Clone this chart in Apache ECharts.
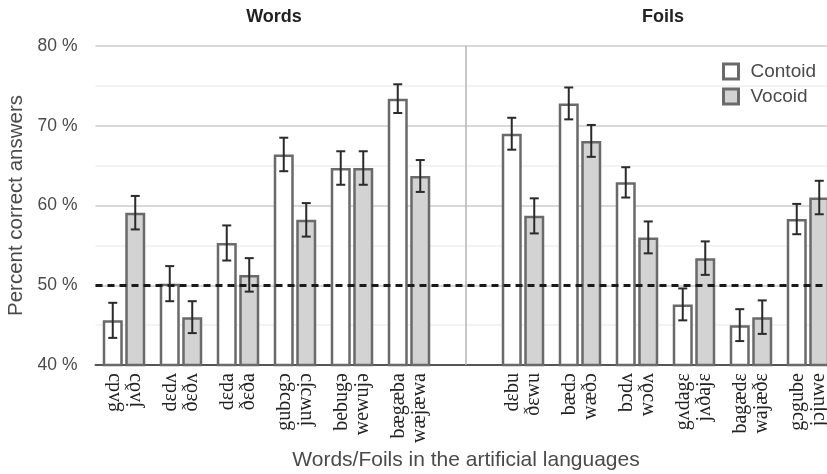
<!DOCTYPE html>
<html>
<head>
<meta charset="utf-8">
<script src="https://cdn.jsdelivr.net/npm/echarts@6/dist/echarts.min.js"></script>
<style>
  html, body { margin: 0; padding: 0; background: #fff; }
  #chart { width: 827px; height: 474px; }
</style>
</head>
<body>
<div id="chart"></div>
<script>
// Item labels (contoid form / vocoid form)
const wordContoid = ['gʌdɔ', 'dɛdʌ', 'dɛda', 'gubɔgɔ', 'bebugə', 'bægæba'];
const wordVocoid  = ['jʌðɔ', 'ðɛðʌ', 'ðɛða', 'juwɔjɔ', 'wewujə', 'wæjæwa'];
const foilContoid = ['dɛbu', 'bædɔ', 'bɔdʌ', 'gʌdagɛ', 'bagædɛ', 'gɔgube'];
const foilVocoid  = ['ðɛwu', 'wæðɔ', 'wɔðʌ', 'jʌðajɛ', 'wajæðɛ', 'jɔjuwe'];

// Percent correct answers
const wordContoidPct = [45.6, 50.2, 55.3, 66.4, 64.7, 73.4];
const wordVocoidPct  = [59.1, 46.0, 51.3, 58.2, 64.7, 63.7];
const foilContoidPct = [69.0, 72.8, 62.9, 47.6, 45.0, 58.3];
const foilVocoidPct  = [58.7, 68.1, 56.0, 53.4, 46.0, 61.0];

// Error bar half-lengths (percentage points)
const wordContoidErr = [2.2, 2.2, 2.2, 2.1, 2.1, 1.8];
const wordVocoidErr  = [2.1, 2.0, 2.1, 2.1, 2.1, 2.0];
const foilContoidErr = [2.0, 2.0, 1.9, 2.0, 2.0, 1.9];
const foilVocoidErr  = [2.2, 2.0, 2.0, 2.1, 2.1, 2.1];

const yTicks = [40, 50, 60, 70, 80];
const chance = 50;

// 13 slots: six word pairs, an empty separator slot, six foil pairs
const categories = [];
wordContoid.forEach((c, i) => categories.push(c + '\n' + wordVocoid[i]));
categories.push('');
foilContoid.forEach((c, i) => categories.push(c + '\n' + foilVocoid[i]));
const gapIndex = wordContoid.length;

const contoidVals = [...wordContoidPct, null, ...foilContoidPct];
const vocoidVals  = [...wordVocoidPct, null, ...foilVocoidPct];
const contoidErrs = [...wordContoidErr, null, ...foilContoidErr];
const vocoidErrs  = [...wordVocoidErr, null, ...foilVocoidErr];

const BAR_W = 20;
const BAR_GAP = 2.5;
const HALF_STEP = (BAR_W + BAR_GAP) / 2;

function errData(vals, errs, side) {
  const out = [];
  vals.forEach((v, i) => { if (v != null) out.push([i, v, errs[i], side]); });
  return out;
}

function renderErr(params, api) {
  const i = api.value(0), v = api.value(1), e = api.value(2), side = api.value(3);
  const hi = api.coord([i, v + e]);
  const lo = api.coord([i, v - e]);
  const x = hi[0] + side * HALF_STEP;
  const cap = 4.5;
  const style = { stroke: '#2a2a2a', lineWidth: 2 };
  return {
    type: 'group',
    children: [
      { type: 'line', shape: { x1: x, y1: hi[1], x2: x, y2: lo[1] }, style },
      { type: 'line', shape: { x1: x - cap, y1: hi[1], x2: x + cap, y2: hi[1] }, style },
      { type: 'line', shape: { x1: x - cap, y1: lo[1], x2: x + cap, y2: lo[1] }, style }
    ]
  };
}

const sans = "'Liberation Sans', Arial, sans-serif";
const serif = "'Liberation Serif', 'DejaVu Serif', serif";

const chart = echarts.init(document.getElementById('chart'), null, { renderer: 'canvas' });
chart.setOption({
  animation: false,
  title: [
    { text: 'Words', left: 274, top: 8, padding: 0, textAlign: 'center',
      textStyle: { fontFamily: sans, fontSize: 18, fontWeight: 'bold', color: '#222' } },
    { text: 'Foils', left: 663, top: 8, padding: 0, textAlign: 'center',
      textStyle: { fontFamily: sans, fontSize: 18, fontWeight: 'bold', color: '#222' } }
  ],
  legend: {
    data: ['Contoid', 'Vocoid'],
    orient: 'vertical',
    left: 722,
    top: 62,
    padding: 0,
    itemWidth: 15,
    itemHeight: 15,
    itemGap: 6,
    icon: 'rect',
    itemStyle: { borderWidth: 3, borderColor: '#6a6a6a' },
    textStyle: { fontFamily: sans, fontSize: 19, lineHeight: 15, color: '#4a4a4a', padding: [0, 0, 0, 7] }
  },
  grid: { left: 95.5, right: -9.5, top: 46, bottom: 109, outerBoundsMode: 'none', containLabel: false },
  xAxis: {
    type: 'category',
    data: categories,
    name: 'Words/Foils in the artificial languages',
    nameLocation: 'middle',
    nameGap: 85,
    nameMoveOverlap: false,
    nameTextStyle: { fontFamily: sans, fontSize: 21, color: '#4a4a4a' },
    axisLine: { lineStyle: { color: '#555', width: 2 } },
    axisTick: { show: false },
    axisLabel: {
      interval: 0,
      rotate: 90,
      margin: 8,
      fontFamily: serif,
      fontSize: 20,
      lineHeight: 21,
      color: '#222'
    }
  },
  yAxis: {
    type: 'value',
    min: yTicks[0],
    max: yTicks[yTicks.length - 1],
    interval: 10,
    name: 'Percent correct answers',
    nameLocation: 'middle',
    nameGap: 69,
    nameMoveOverlap: false,
    nameTextStyle: { fontFamily: sans, fontSize: 20.5, color: '#4a4a4a' },
    axisLine: { show: false },
    axisTick: { show: false },
    axisLabel: { formatter: '{value} %', margin: 18, fontFamily: sans, fontSize: 17.5, color: '#4a4a4a' },
    splitLine: { lineStyle: { color: '#cccccc', width: 1.5 } },
    minorTick: { show: false, splitNumber: 2 },
    minorSplitLine: { show: true, lineStyle: { color: '#efefef', width: 1.5 } }
  },
  series: [
    {
      name: 'Contoid',
      type: 'bar',
      data: contoidVals,
      barWidth: BAR_W,
      barGap: (BAR_GAP / BAR_W * 100) + '%',
      itemStyle: { color: '#ffffff', borderColor: '#6a6a6a', borderWidth: 2.5 }
    },
    {
      name: 'Vocoid',
      type: 'bar',
      data: vocoidVals,
      barWidth: BAR_W,
      itemStyle: { color: '#d3d3d3', borderColor: '#6a6a6a', borderWidth: 2.5 }
    },
    {
      // reference lines: words/foils divider and 50 % chance level
      type: 'line',
      data: [],
      silent: true,
      markLine: {
        silent: true,
        symbol: 'none',
        label: { show: false },
        data: [
          { xAxis: gapIndex, lineStyle: { color: '#b5b5b5', width: 1.5, type: 'solid' } },
          { yAxis: chance, lineStyle: { color: '#1a1a1a', width: 3, type: [7, 5] } }
        ]
      }
    },
    {
      type: 'custom',
      data: errData(contoidVals, contoidErrs, -1),
      renderItem: renderErr,
      z: 5,
      silent: true
    },
    {
      type: 'custom',
      data: errData(vocoidVals, vocoidErrs, 1),
      renderItem: renderErr,
      z: 5,
      silent: true
    }
  ]
});
</script>
</body>
</html>
